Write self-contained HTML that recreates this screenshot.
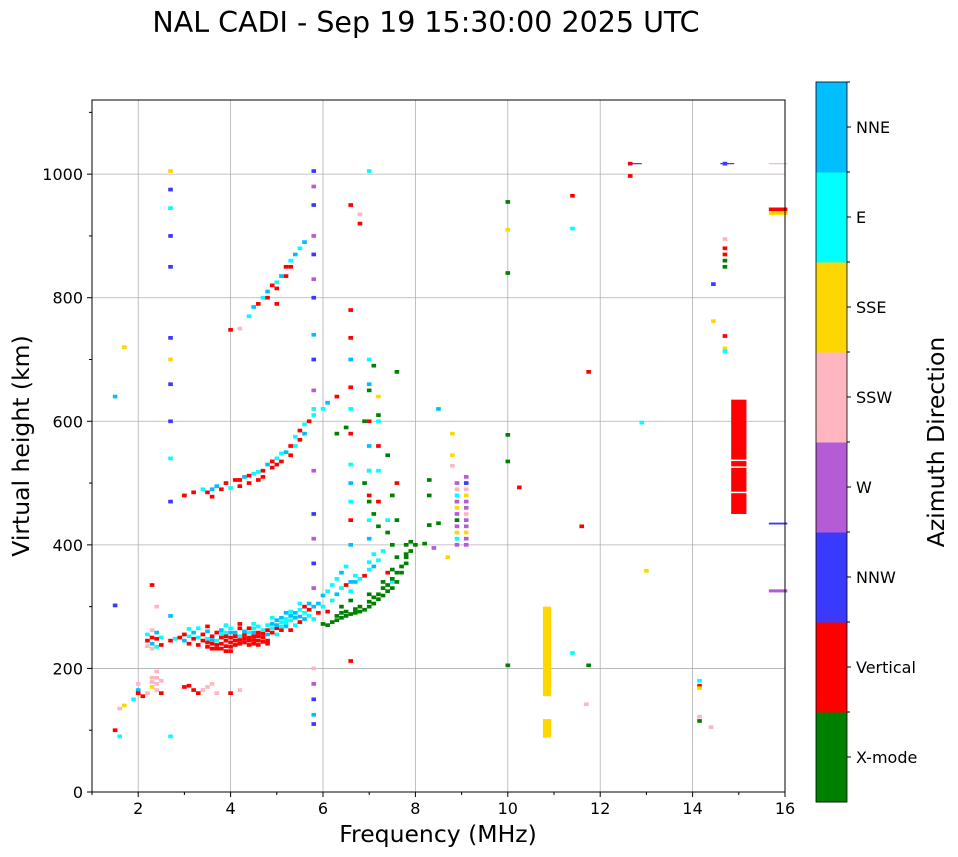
<!DOCTYPE html>
<html><head><meta charset="utf-8">
<style>
body{margin:0;background:#fff;font-family:"Liberation Sans",sans-serif;}
svg{display:block}
text{font-family:"DejaVu Sans","Liberation Sans",sans-serif;fill:#000}
</style></head>
<body>
<svg id="chart" width="958" height="857" viewBox="0 0 958 857">
<text x="426" y="32" text-anchor="middle" font-size="28.5">NAL CADI - Sep 19 15:30:00 2025 UTC</text>
<g id="grid"></g>
<g id="marks"></g>
<rect x="92" y="100" width="693" height="692" fill="none" stroke="#000" stroke-width="1"/>
<g id="axes"></g>
<text x="438" y="842" text-anchor="middle" font-size="23.5">Frequency (MHz)</text>
<text transform="translate(29,446) rotate(-90)" text-anchor="middle" font-size="23.5">Virtual height (km)</text>
<g id="cbar"></g>
<text transform="translate(944,442) rotate(-90)" text-anchor="middle" font-size="23.5">Azimuth Direction</text>
</svg>
<script>
const dirNames=["X-mode","Vertical","NNW","W","SSW","SSE","E","NNE"];
const dirColors=["#008000","#ff0000","#3a3aff","#b45cd6","#ffb6c1","#ffd700","#00ffff","#00bfff"];
const xTicks=[2,4,6,8,10,12,14,16];
const yTicks=[0,200,400,600,800,1000];
const oTrace=[[2.2,245,1],[2.2,255,6],[2.3,240,7],[2.3,250,1],[2.3,262,4],[2.4,235,6],[2.4,248,1],[2.4,258,7],[2.5,250,6],[2.7,245,1],[2.8,248,6],[2.9,250,1],[3.0,245,7],[3.0,255,1],[3.1,240,1],[3.1,252,6],[3.2,248,1],[3.2,258,7],[3.3,238,1],[3.3,250,6],[3.4,245,1],[3.4,255,1],[3.5,235,1],[3.5,248,6],[3.5,260,7],[3.6,240,1],[3.6,252,1],[3.7,232,1],[3.7,245,6],[3.7,258,1],[3.8,240,1],[3.8,250,1],[3.8,262,7],[3.9,228,1],[3.9,245,1],[3.9,258,6],[4.0,235,1],[4.0,250,1],[4.0,265,6],[4.1,245,1],[4.1,258,7],[4.2,240,1],[4.2,252,6],[4.2,265,1],[4.3,248,1],[4.3,260,7],[4.4,245,1],[4.4,258,6],[4.5,240,1],[4.5,252,1],[4.5,265,6],[4.6,245,1],[4.6,258,1],[4.7,250,1],[4.7,262,6],[4.8,245,1],[4.8,255,7],[4.8,270,6],[4.9,258,1],[4.9,272,7],[5.0,255,6],[5.0,265,1],[5.0,278,7],[5.1,262,1],[5.1,275,6],[5.2,268,7],[5.2,280,6],[5.3,262,1],[5.3,285,7],[5.4,270,6],[5.4,290,7],[5.5,275,1],[5.5,295,6],[5.6,280,7],[5.6,300,1],[5.7,285,6],[5.7,305,7],[5.9,290,1],[6.0,300,6],[6.1,292,1],[6.2,310,6],[6.3,320,7],[6.4,330,6],[6.5,335,1],[6.6,325,6],[6.7,340,7],[6.8,345,6],[6.9,350,1],[7.0,360,6],[7.1,365,7],[7.2,375,6],[7.3,390,6],[7.4,355,1],[7.5,340,6]];
const denseTrace=[[3.5,242,1],[3.6,246,7],[3.6,232,1],[3.7,238,1],[3.8,232,1],[3.8,256,6],[3.9,236,1],[3.9,252,1],[4.0,242,1],[4.0,228,1],[4.0,258,7],[4.1,238,1],[4.1,252,1],[4.2,246,1],[4.3,242,1],[4.3,254,1],[4.4,238,1],[4.4,250,1],[4.4,265,1],[4.5,246,1],[4.5,258,7],[4.6,238,1],[4.6,252,1],[4.6,268,6],[4.7,243,1],[4.7,256,1],[4.8,262,1],[4.8,240,1],[4.9,265,6],[5.0,270,7],[5.1,268,6],[5.1,282,7],[5.2,274,6],[5.3,278,6],[5.3,292,6],[5.4,282,7],[5.5,284,7],[5.6,290,6],[5.7,295,1],[5.9,305,7],[6.0,318,7],[6.1,325,6],[6.2,335,6],[6.3,345,6],[6.4,355,7],[6.5,365,6],[6.7,350,6],[7.0,372,6],[7.1,385,6],[2.3,232,4],[2.2,236,4],[2.5,238,1],[3.1,264,6],[3.3,265,6],[3.5,268,1],[3.9,270,6],[4.2,272,1],[4.5,272,6],[4.9,282,6],[5.2,290,7],[5.5,305,6],[5.8,300,7]];
const xTrace=[[6.0,272,0],[6.1,270,0],[6.2,275,0],[6.3,278,0],[6.3,285,0],[6.4,282,0],[6.4,290,0],[6.5,285,0],[6.5,292,0],[6.6,288,0],[6.7,290,0],[6.7,296,0],[6.8,292,0],[6.8,300,0],[6.9,295,0],[7.0,300,0],[7.0,308,0],[7.1,305,0],[7.1,315,0],[7.2,312,0],[7.2,320,0],[7.3,318,0],[7.3,330,0],[7.4,325,0],[7.4,335,0],[7.5,330,0],[7.5,345,0],[7.6,340,0],[7.6,355,0],[7.7,355,0],[7.7,365,0],[7.8,370,0],[7.8,385,0],[7.9,390,0],[7.9,405,0],[6.4,300,0],[6.6,310,0],[7.0,320,0],[7.3,340,0],[7.5,360,0],[7.6,380,0],[7.8,400,0],[6.5,590,0],[6.9,600,0],[7.0,650,0],[7.1,690,0],[7.2,610,0],[7.4,545,0],[7.5,480,0],[7.6,440,0],[7.6,680,0],[6.3,580,0],[7.1,450,0],[7.2,430,0],[7.4,420,0],[7.5,400,0],[7.8,380,0],[7.0,470,0],[6.9,500,0],[7.0,520,0]];
const echo2=[[3.0,480,1],[3.2,485,1],[3.4,490,6],[3.5,485,1],[3.6,478,1],[3.7,495,7],[3.8,490,1],[3.9,500,1],[4.0,492,6],[4.1,505,1],[4.2,495,1],[4.3,510,7],[4.4,500,1],[4.5,515,6],[4.6,505,1],[4.7,520,1],[4.8,530,7],[4.9,525,1],[5.0,540,6],[5.1,535,1],[5.2,550,7],[5.3,545,1],[5.4,560,6],[5.5,570,1],[5.6,580,7],[5.6,595,6],[5.7,600,1],[5.8,610,6],[6.0,620,6],[6.1,630,7],[6.3,640,1],[3.6,490,7],[4.2,505,1],[4.4,512,1],[4.6,518,6],[4.9,535,1],[5.1,548,6],[5.3,560,1],[5.4,575,6],[5.5,585,1],[5.0,530,1],[4.7,510,1]];
const echo3=[[4.0,748,1],[4.2,750,4],[4.4,770,6],[4.5,785,7],[4.6,790,1],[4.7,800,6],[4.8,810,7],[4.9,820,1],[5.0,825,6],[5.1,835,7],[5.2,850,1],[5.3,860,6],[5.4,870,7],[5.5,880,6],[5.6,890,7],[4.8,800,1],[5.0,815,1],[5.2,835,1],[5.0,790,1],[5.3,850,1]];
const lowEchoes=[[1.5,100,1],[1.6,90,6],[1.6,135,4],[1.7,140,5],[1.9,150,6],[2.0,165,7],[2.0,175,4],[2.1,155,1],[2.2,160,4],[2.3,170,5],[2.3,185,4],[2.4,175,4],[2.4,195,4],[2.5,160,1],[2.5,180,4],[2.3,335,1],[2.4,300,4],[3.0,170,1],[3.2,165,1],[3.5,170,4],[3.7,160,4],[4.0,160,1],[4.2,165,4],[1.5,640,7],[1.5,302,2],[1.7,720,5],[2.4,185,4],[2.4,165,4],[2.3,178,4],[2.0,160,1],[3.1,172,1],[3.4,165,4],[3.6,175,4],[3.3,160,1]];
const columnDots=[[2.7,90,6],[2.7,285,7],[2.7,470,2],[2.7,540,6],[2.7,600,2],[2.7,660,2],[2.7,700,5],[2.7,735,2],[2.7,850,2],[2.7,900,2],[2.7,945,6],[2.7,975,2],[2.7,1005,5],[5.8,110,2],[5.8,125,7],[5.8,150,2],[5.8,175,3],[5.8,200,4],[5.8,280,6],[5.8,330,3],[5.8,370,2],[5.8,410,3],[5.8,450,2],[5.8,520,3],[5.8,620,6],[5.8,650,3],[5.8,700,2],[5.8,740,7],[5.8,800,2],[5.8,830,3],[5.8,870,2],[5.8,900,3],[5.8,950,2],[5.8,980,3],[5.8,1005,2],[6.6,212,1],[6.6,340,7],[6.6,400,7],[6.6,440,1],[6.6,470,6],[6.6,500,7],[6.6,530,6],[6.6,580,1],[6.6,620,6],[6.6,655,1],[6.6,700,7],[6.6,735,1],[6.6,780,1],[6.6,950,1],[6.8,920,1],[6.8,935,4],[7.0,1005,6],[7.0,700,6],[7.0,660,7],[7.0,600,1],[7.0,560,7],[7.0,520,6],[7.0,480,1],[7.0,440,6],[7.0,410,7],[7.2,640,5],[7.2,600,6],[7.2,560,1],[7.2,520,6],[7.2,470,1],[7.4,440,6],[7.6,500,1]];
const miscEchoes=[[10.0,955,0],[10.0,910,5],[10.0,840,0],[10.0,578,0],[10.0,535,0],[10.0,205,0],[10.25,493,1],[11.4,965,1],[11.4,912,6],[11.6,430,1],[11.75,680,1],[11.75,205,0],[11.7,142,4],[11.4,225,6],[12.9,598,6],[13.0,358,5],[14.15,180,6],[14.15,172,1],[14.15,168,5],[14.15,122,4],[14.15,115,0],[14.4,105,4],[14.45,822,2],[14.45,762,5],[14.7,895,4],[14.7,880,1],[14.7,870,1],[14.7,860,0],[14.7,850,0],[14.7,738,1],[14.7,718,5],[14.7,713,6],[12.65,1017,1],[12.65,997,1],[14.7,1017,2],[8.5,620,7],[8.8,580,5],[8.8,545,5],[8.8,528,4],[8.3,505,0],[8.3,480,0],[8.3,432,0],[8.5,435,0],[8.4,395,3],[8.7,380,5],[8.2,402,0],[8.0,400,0],[8.9,500,3],[8.9,490,4],[8.9,480,6],[8.9,470,3],[8.9,460,5],[8.9,450,3],[8.9,440,0],[8.9,430,3],[8.9,420,5],[8.9,410,6],[8.9,400,3],[9.1,510,3],[9.1,500,2],[9.1,490,4],[9.1,480,5],[9.1,470,3],[9.1,460,3],[9.1,450,4],[9.1,440,3],[9.1,430,3],[9.1,420,5],[9.1,410,3],[9.1,400,3],[10.85,275,6],[10.85,268,2]];
const blocks=[[10.85,155,300,5,0.18],[10.85,88,118,5,0.18],[15.0,450,635,1,0.33],[15.85,940,946,1,0.4],[15.85,934,940,5,0.4],[15.85,433,436,2,0.4],[15.85,323,328,3,0.4],[15.85,1016,1018,4,0.4],[12.75,1016,1018,2,0.3],[14.75,1016,1018,2,0.3]];
const NS="http://www.w3.org/2000/svg";
const X0=92,X1=785,Y0=792,Y1=100,FMIN=1,FMAX=16,HMIN=0,HMAX=1120;
function xs(f){return X0+(f-FMIN)/(FMAX-FMIN)*(X1-X0);}
function ys(h){return Y0-(h-HMIN)/(HMAX-HMIN)*(Y0-Y1);}
function mk(tag,attrs,parent){const e=document.createElementNS(NS,tag);for(const k in attrs)e.setAttribute(k,attrs[k]);parent.appendChild(e);return e;}
const grid=document.getElementById('grid'),axes=document.getElementById('axes'),marks=document.getElementById('marks'),cbar=document.getElementById('cbar');
xTicks.forEach(t=>{const x=xs(t);
 let g=mk('line',{x1:x,x2:x,y1:Y1,y2:Y0,stroke:'#b0b0b0','stroke-width':0.8},grid);
 mk('line',{x1:x,x2:x,y1:Y0,y2:Y0+5,stroke:'#000'},axes);
 let tx=mk('text',{x:x,y:Y0+22,'text-anchor':'middle','font-size':16},axes);tx.textContent=t;
 });
[1,3,5,7,9,11,13,15].forEach(t=>mk('line',{x1:xs(t),x2:xs(t),y1:Y0,y2:Y0+3,stroke:'#000'},axes));
yTicks.forEach(t=>{const y=ys(t);
 let g=mk('line',{x1:X0,x2:X1,y1:y,y2:y,stroke:'#b0b0b0','stroke-width':0.8},grid);
 mk('line',{x1:X0-5,x2:X0,y1:y,y2:y,stroke:'#000'},axes);
 let tx=mk('text',{x:X0-9,y:y+6,'text-anchor':'end','font-size':16},axes);tx.textContent=t;
 });
for(let h=100;h<1120;h+=200)mk('line',{x1:X0-3,x2:X0,y1:ys(h),y2:ys(h),stroke:'#000'},axes);
const W=0.1,H=6;
[oTrace,denseTrace,xTrace,echo2,echo3,lowEchoes,columnDots,miscEchoes].forEach(arr=>arr.forEach(p=>{
 const r=mk('rect',{x:xs(p[0]-W/2),y:ys(p[1]+H/2),width:xs(p[0]+W/2)-xs(p[0]-W/2),height:ys(0)-ys(H),fill:dirColors[p[2]]},marks);
 }));
blocks.forEach(b=>{
 const r=mk('rect',{x:xs(b[0]-b[4]/2),y:ys(b[2]),width:xs(b[0]+b[4]/2)-xs(b[0]-b[4]/2),height:ys(b[1])-ys(b[2]),fill:dirColors[b[3]]},marks);
 });
[486,527,538].forEach(h=>mk('rect',{x:xs(14.83),y:ys(h),width:xs(15.17)-xs(14.83),height:1.5,fill:'#fff'},marks));
const CX=816,CW=31,CT=82,CB=802,seg=(CB-CT)/dirNames.length;
dirNames.forEach((n,i)=>{const y=CB-(i+1)*seg;
 const r=mk('rect',{x:CX,y:y,width:CW,height:seg+0.5,fill:dirColors[i]},cbar);
 
 mk('line',{x1:CX+CW,x2:CX+CW+4,y1:y+seg/2,y2:y+seg/2,stroke:'#000'},cbar);
 const t=mk('text',{x:CX+CW+9,y:y+seg/2+6,'font-size':16},cbar);t.textContent=n;
 
 mk('line',{x1:CX+CW,x2:CX+CW+3,y1:y,y2:y,stroke:'#000'},cbar);});
mk('rect',{x:CX,y:CT,width:CW,height:CB-CT,fill:'none',stroke:'#000','stroke-width':0.8},cbar);
</script>
</body></html>
